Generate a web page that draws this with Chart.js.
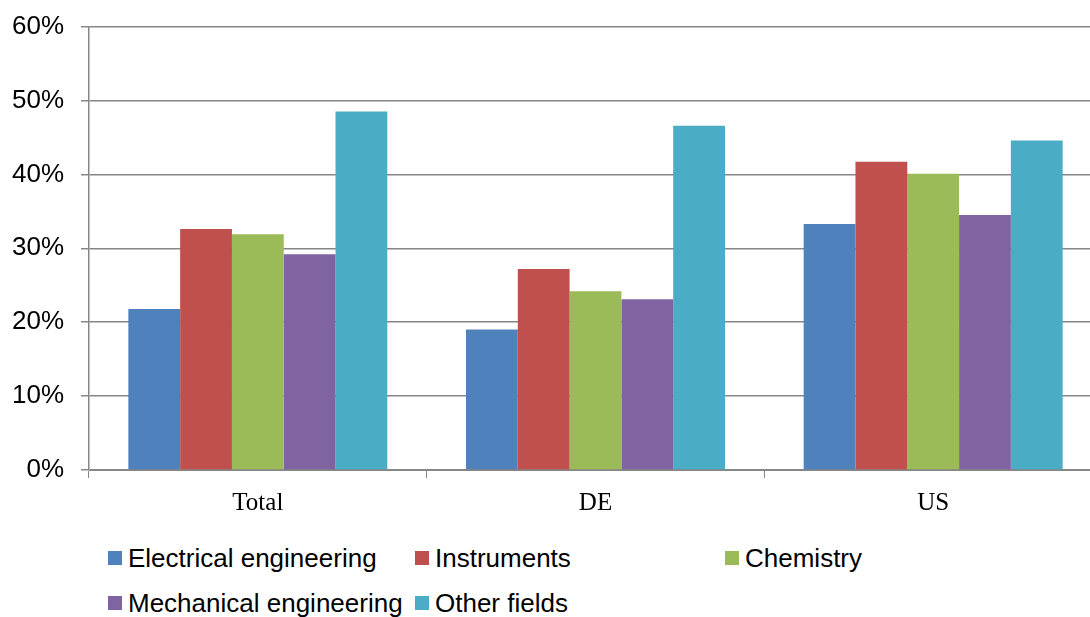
<!DOCTYPE html>
<html>
<head>
<meta charset="utf-8">
<script src="https://cdn.jsdelivr.net/npm/chart.js@4"></script>
<style>
  html, body { margin: 0; padding: 0; background: #fff; overflow: hidden; }
  #wrap { position: relative; width: 1090px; height: 617px; overflow: hidden; }
  #chartData { position: absolute; left: 0; top: 0; }
  #legend { position: absolute; left: 108px; top: 536px; font-family: "Liberation Sans", Arial, sans-serif; font-size: 26px; color: #000; }
  .item { position: absolute; white-space: nowrap; display: flex; align-items: center; height: 44px; }
  .box { width: 14px; height: 14px; margin-right: 6px; }
</style>
</head>
<body>
<div id="wrap">
  <canvas id="chartData" width="1102" height="530" style="width:1102px;height:530px"></canvas>
  <div id="legend"></div>
</div>
<script>
    // data (shares, 0..1)
    const categories = ["Total", "DE", "US"];
    const seriesNames = ["Electrical engineering", "Instruments", "Chemistry", "Mechanical engineering", "Other fields"];
    const electrical = [0.218, 0.190, 0.333];
    const instruments = [0.326, 0.272, 0.417];
    const chemistry = [0.319, 0.242, 0.401];
    const mechanical = [0.292, 0.231, 0.345];
    const otherFields = [0.485, 0.466, 0.446];
    const yTicks = [0, 0.1, 0.2, 0.3, 0.4, 0.5, 0.6];

    const colors = ["#4F81BD", "#C0504D", "#9BBB59", "#8064A2", "#4BACC6"];
    const allValues = [electrical, instruments, chemistry, mechanical, otherFields];

    const ctx = document.getElementById("chartData");

    const datasets = allValues.map((vals, i) => ({
        label: seriesNames[i],
        data: vals,
        backgroundColor: colors[i],
        borderWidth: 0,
        categoryPercentage: 0.767,
        barPercentage: 1.0,
    }));

    new Chart(ctx, {
        type: "bar",
        data: {
            labels: categories,
            datasets: datasets,
        },
        options: {
            responsive: false,
            animation: false,
            layout: { padding: { top: 0, right: 0, left: 0, bottom: 0 } },
            plugins: {
                legend: { display: false },
                tooltip: { enabled: false },
            },
            scales: {
                x: {
                    afterFit: (s) => { s.height = 60; },
                    grid: { drawOnChartArea: false, offset: true, tickLength: 8, color: "#868686" },
                    border: { color: "#868686", width: 1 },
                    ticks: {
                        padding: 10,
                        color: "#000",
                        font: { family: "'Liberation Serif', 'Times New Roman', serif", size: 25 },
                    },
                },
                y: {
                    min: 0,
                    max: 0.6,
                    afterFit: (s) => { s.width = 89; },
                    afterBuildTicks: (s) => { s.ticks = yTicks.map(v => ({ value: v })); },
                    grid: { color: "#868686", lineWidth: 1.5, tickLength: 8 },
                    border: { color: "#868686", width: 1.5 },
                    ticks: {
                        padding: 17,
                        color: "#000",
                        font: { family: "'Liberation Sans', Arial, sans-serif", size: 26, lineHeight: 0.74 },
                        callback: (v) => Math.round(v * 100) + "%",
                    },
                },
            },
        },
    });

    // legend laid out in a 3-column grid like the original
    const legend = document.getElementById("legend");
    const colX = [0, 307, 617];
    seriesNames.forEach((name, i) => {
        const item = document.createElement("div");
        item.className = "item";
        item.style.left = colX[i % 3] + "px";
        item.style.top = (Math.floor(i / 3) * 45) + "px";
        item.innerHTML = '<span class="box" style="background:' + colors[i] + '"></span><span>' + name + '</span>';
        legend.appendChild(item);
    });
</script>
</body>
</html>
